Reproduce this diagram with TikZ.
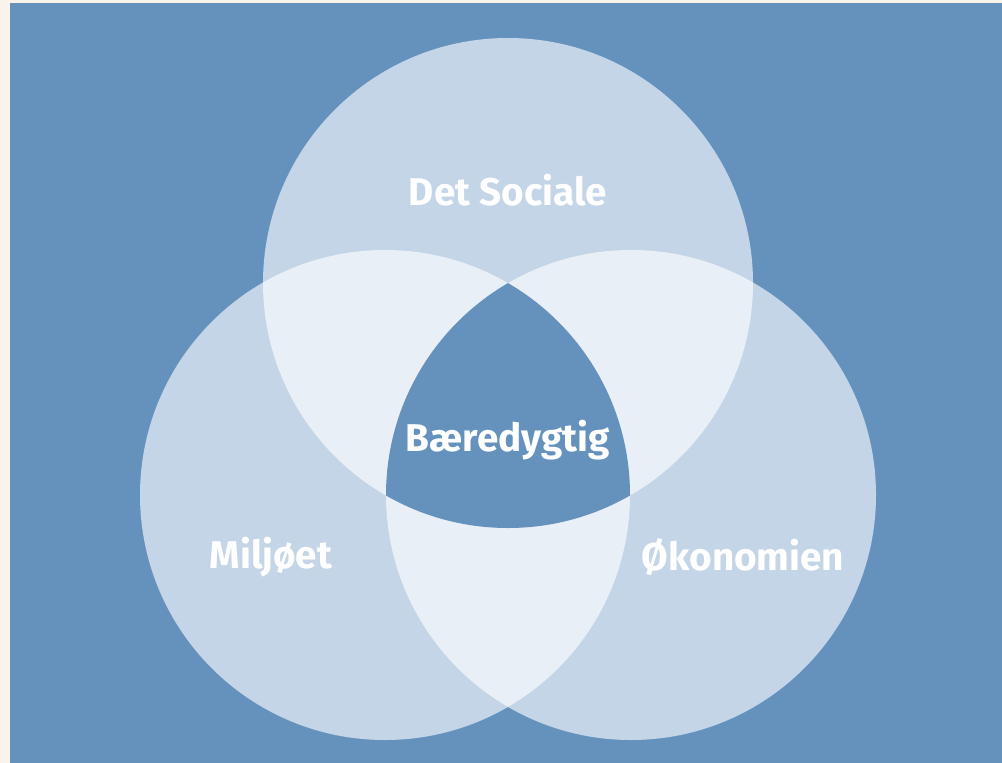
\documentclass[tikz,border=0pt]{standalone}
\usepackage{fontspec}
\setsansfont{Fira Sans}
\definecolor{bgblue}{RGB}{101,146,189}
\definecolor{ringfill}{RGB}{195,213,230}
\definecolor{lensfill}{RGB}{233,239,246}
\definecolor{paper}{RGB}{248,244,235}
\tikzset{every picture/.style={line width=0.75pt}}
\tikzset{lbl/.style={text=white,inner sep=0.75pt,font=\sffamily\bfseries\fontsize{29}{33}\selectfont}}

\begin{document}
\begin{tikzpicture}[x=0.75pt,y=0.75pt,yscale=-1,xscale=1]
%set diagram left start at 0, and has height of 763
\useasboundingbox (0,0) rectangle (1002,763);
\fill [paper] (0,0) rectangle (1002,763);
%Shape: Rectangle [id:bg]
\fill [bgblue] (10,3) rectangle (1002,763);

\coordinate (cS) at (508,283);
\coordinate (cM) at (385,495);
\coordinate (cO) at (631,495);

%Shape: Circle [id:social]
\fill [ringfill] (cS) circle [radius=245];
%Shape: Circle [id:miljo]
\fill [ringfill] (cM) circle [radius=245];
%Shape: Circle [id:okonomi]
\fill [ringfill] (cO) circle [radius=245];

%Shape: Lens pairs
\begin{scope}
\clip (cS) circle [radius=245];
\fill [lensfill] (cM) circle [radius=245];
\fill [lensfill] (cO) circle [radius=245];
\end{scope}
\begin{scope}
\clip (cM) circle [radius=245];
\fill [lensfill] (cO) circle [radius=245];
\end{scope}
%Shape: Centre
\begin{scope}
\clip (cS) circle [radius=245];
\clip (cM) circle [radius=245];
\fill [bgblue] (cO) circle [radius=245];
\end{scope}

% Text Node
\node (social) [lbl] at (508,190) {Det Sociale};
% Text Node
\node (midt) [lbl] at (508,440) {Bæredygtig};
% Text Node
\node (miljo) [lbl] at (271,557) {Miljøet};
% Text Node
\node (okonomi) [lbl] at (743,557) {Økonomien};

\end{tikzpicture}
\end{document}
